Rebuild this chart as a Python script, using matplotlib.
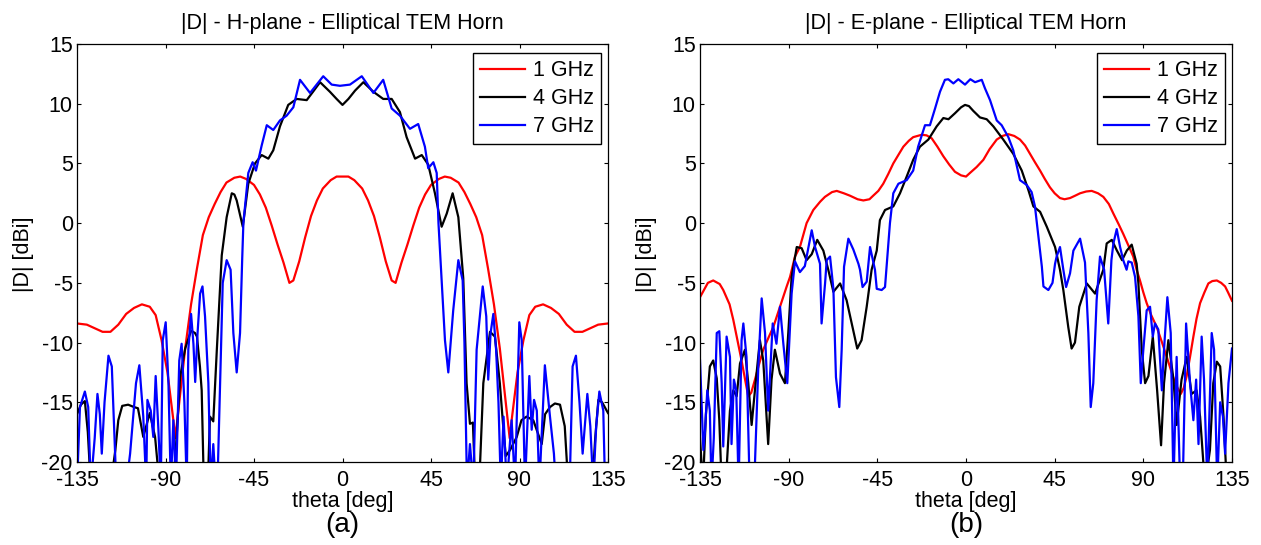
import matplotlib
matplotlib.use("Agg")
import matplotlib.pyplot as plt

plt.rcParams['font.family'] = ['Liberation Sans', 'DejaVu Sans']
plt.rcParams['axes.unicode_minus'] = False

# ---------------- data ----------------
# H-plane, 1 GHz
h1_th_half = [0, 3, 6, 10, 13, 16, 19, 22, 25, 27, 30, 33, 36, 39, 42, 45, 49, 52, 55, 59,
              62, 65, 68, 71, 74, 77, 80, 83, 85, 86, 89, 92, 95, 98, 102, 106, 110, 114,
              118, 122, 126, 130, 135]
h1_val_half = [3.9, 3.9, 3.6, 2.9, 1.9, 0.6, -1.2, -3.2, -4.8, -5.0, -3.3, -1.8, -0.2, 1.3,
               2.4, 3.2, 3.7, 3.9, 3.8, 3.4, 2.6, 1.6, 0.5, -1.0, -3.8, -6.8, -10.5, -15.0,
               -18.0, -16.5, -12.5, -9.8, -7.7, -7.0, -6.8, -7.1, -7.6, -8.5, -9.1, -9.1,
               -8.8, -8.5, -8.4]

# H-plane, 4 GHz
h4_th = [-135, -133, -131, -129.5, -128, -118, -115.5, -114, -112, -109, -106, -104, -101.3,
         -98, -95.3, -93, -86, -84, -82.6, -80, -77, -75, -74, -72.5, -71.6, -70.5, -68.5,
         -67.4, -65.7, -63.9, -61.4, -58.9, -56.3, -55, -53.8, -50.7, -47.9, -44.5, -41.1,
         -37.7, -35.2, -31.8, -27.6, -23.3, -18.2, -15, -11.4, -6.4, -3, 0,
         3, 6.4, 10.6, 15.7, 20.7, 25, 29.2, 32.6, 36.9, 40.3, 43.6, 47, 50.4, 53, 56, 58.9,
         61.4, 63.1, 64.8, 66.3, 67.5, 69.5, 71.6, 75, 77.5, 80, 81.7, 83, 85.2, 88.6, 91,
         93.6, 97, 101.3, 103, 105.5, 108, 110.6, 113, 114.8, 127, 128.5, 130.1, 132, 135]
h4_val = [-16.0, -15.2, -14.9, -17.5, -22, -22, -19, -16.5, -15.3, -15.2, -15.4, -15.5, -17.9,
          -15.9, -17.9, -22, -22, -17, -12.9, -10.5, -9.0, -9.2, -9.5, -12, -14, -22, -22,
          -16.2, -16.6, -10.6, -2.7, 0.5, 2.5, 2.4, 1.9, -0.3, 3.3, 5.0, 5.7,
          5.4, 6.1, 8.1, 9.9, 10.4, 10.3, 11.0, 11.8, 11.0, 10.4, 9.9,
          10.4, 11.1, 11.8, 11.0, 10.4, 10.4, 9.3, 7.2, 5.4, 5.7, 4.9, 2.5, -0.3, 0.8, 2.5, 0.5,
          -4.6, -13.4, -16.8, -16.7, -22, -22, -13.4, -9.1, -9.5, -13.4, -17, -19.5, -19, -17.9, -16.5,
          -16.2, -16.5, -18.5, -16, -15.4, -15.1, -15.2, -17, -22, -22, -18, -14.8, -15.0, -15.9]

# H-plane, 7 GHz
h7_th = [-135, -133.5, -131, -129.3, -128, -126, -124.6, -123.4, -122.4, -121, -119, -117.3,
         -115, -110, -108, -105, -103.3, -101.3, -99.8, -99.2, -97.5, -96.2, -95, -93.6,
         -92.4, -91.4, -89.9, -88.5, -87.3, -86, -84.7, -83, -81.8, -80.4, -79.2, -78.4,
         -77, -75.8, -74.9, -73.7, -72.4, -71.2, -69.9, -68.2, -67, -65.7, -64.5, -63.6,
         -61.5, -60.9, -58.9, -56.9, -55.5, -53.8, -52.1, -51, -50.4, -47.9, -45.7, -44,
         -41.1, -38.5, -35.2, -31.8, -28.4, -25, -21.6, -16.5, -9.8, -5.5, -1.3,
         3.8, 9.8, 15.7, 20.7, 25, 29.2, 34.3, 38.5, 41.9, 43.6, 46.2, 47.9, 48.8, 50.4,
         52.1, 53.8, 56.3, 58.9, 61.1, 62, 63.3, 64.8, 66.5, 68.2, 71.3, 73.1, 74.1,
         75.3, 76.7, 78.1, 79.3, 80.5, 81.9, 83.5, 86, 87.7, 89.9, 91.1, 92.8, 95, 96.2,
         97.4, 98.8, 100.1, 102.9, 105.5, 107.5, 108.5, 115.5, 117, 118.7, 120.5, 122.1,
         124.5, 126, 127.5, 129, 130.6, 132.6, 133.5, 135]
h7_val = [-22, -15.4, -14.1, -15.4, -22, -18, -14.3, -16, -19.3, -15, -11.1, -12.0,
          -22, -22, -19.3, -13.4, -11.9, -16.2, -22, -14.8, -15.7, -17.9, -12.8, -17.3,
          -22, -9.8, -8.3, -13.4, -22, -16.5, -22, -11.5, -10.1, -15, -22, -10.6,
          -7.6, -10.1, -13.3, -9.2, -5.9, -5.3, -7.8, -13.4, -22, -18.5, -22, -22,
          -9, -5.0, -3.1, -3.9, -9.2, -12.5, -9.2, -3, 0, 4.2, 5.1, 4.4,
          6.5, 8.2, 7.8, 8.6, 9.0, 9.7, 12.0, 10.9, 12.3, 11.6, 11.5,
          11.6, 12.3, 10.9, 12.0, 9.6, 9.0, 7.9, 8.3, 6.4, 4.6, 5.1, 4.2, 0, -4.8,
          -9.8, -12.5, -7.3, -3.1, -4.8, -10, -22, -18.5, -22, -10.6, -5.3, -7.8, -13.1,
          -9.2, -7.6, -10.6, -15, -22, -16.2, -22, -16.5, -22, -8.3, -9.8, -22, -12.8, -17.3,
          -14.8, -15.7, -22, -11.9, -16.2, -19.3, -22, -22, -12, -11.1, -15, -19.3,
          -14.3, -17, -22, -17, -14.1, -15.7, -22, -22]

# E-plane, 1 GHz
e1_th = [-135, -131, -128.3, -125, -123.2, -120, -118.1, -116, -113.9, -112, -110.5, -109,
         -107.1, -105, -102.9, -100, -97.8, -94.4, -91, -89.3, -86.8, -84.3, -80.9, -77.5,
         -74, -71.6, -68, -65.6, -62, -58.9, -55, -52.1, -49, -47.1, -44.5, -42, -39.5,
         -36.9, -34, -31.8, -29, -26.8, -22.5, -20, -17.4, -14.5, -11.5, -8.5, -5.6, -2.5,
         0, 2, 5.4, 8.8, 12, 15.6, 18.5, 21.5, 24.5, 27.4, 30, 32.5, 35, 37.6, 40, 42.6, 45,
         47.7, 50, 52.8, 55.4, 57.9, 61, 63.8, 67, 69.7, 72.5, 74.8, 77.5, 79.8, 82.5, 84.9,
         86.6, 88.3, 90, 91.7, 94, 96.8, 99.5, 101.9, 104, 106.1, 109, 110.5, 112, 113.7,
         115.4, 117, 118.8, 121, 123, 125, 127.3, 129.5, 131.5, 133, 135]
e1_val = [-6.2, -5.0, -4.8, -5.1, -5.6, -6.8, -8.1, -9.8, -11.5, -13.2, -14.5, -14.2,
          -13.1, -11.8, -10.6, -9.5, -8.7, -7.0, -5.3, -4.5, -2.8, -2.0, 0.0, 1.1,
          1.8, 2.2, 2.6, 2.7, 2.5, 2.3, 2.0, 1.9, 2.0, 2.3, 2.7, 3.3, 4.1,
          5.0, 5.8, 6.4, 6.9, 7.2, 7.4, 7.35, 7.1, 6.4, 5.6, 4.9, 4.3, 4.0,
          3.9, 4.2, 4.7, 5.3, 6.2, 7.0, 7.3, 7.45, 7.3, 7.0, 6.5, 5.8, 5.1, 4.4, 3.7, 3.0, 2.5,
          2.1, 2.0, 2.1, 2.3, 2.5, 2.65, 2.7, 2.5, 2.2, 1.6, 0.8, -0.1, -0.9, -1.9, -2.8,
          -3.9, -4.8, -5.8, -6.7, -7.7, -8.7, -10.0, -11.2, -12.3, -13.4, -14.3, -13.8, -12.8, -11.2,
          -9.5, -8.0, -6.7, -5.8, -5.05, -4.85, -4.8, -5.0, -5.3, -5.8, -6.5]

# E-plane, 4 GHz
e4_th = [-135, -133.5, -132, -130, -128.3, -126.5, -125.2, -124, -122, -119.8, -118.1,
         -116.4, -114.7, -112.2, -110.5, -108.8, -106.6, -104.6, -102.9, -100.4, -98.7, -97,
         -94.4, -91.9, -90.2, -88.5, -85.9, -83.4, -80.9, -78.3, -75.5, -72.4, -69.9, -67.3,
         -63.9, -60.6, -57.2, -55.2, -53, -50.4, -47.9, -45.3, -43.7, -41.1, -36.9, -33.5,
         -30.1, -26.8, -23.4, -19.1, -14.9, -11.5, -8.9, -5.6, -2.5, -0.5, 1.5, 3.7, 7.1,
         10.5, 13.9, 18.9, 24, 28.3, 31.6, 34.2, 37.6, 41, 45.2, 47.7, 49.4, 51.9, 53.6,
         55.3, 57.5, 61.3, 65.5, 69.7, 71.4, 74, 76.6, 79.2, 81.6, 84.1, 86.6, 87.5, 89.2,
         90.9, 92.6, 94.8, 97, 99, 100.5, 102.7, 105.3, 106.9, 109.4, 112, 114.5, 117,
         118.8, 121.3, 123.8, 125.5, 127.3, 129, 130.7, 132.4, 135]
e4_val = [-18, -22, -16, -12.0, -11.5, -13, -16.5, -22, -22, -15.7, -14.0,
          -14.5, -11.75, -10.6, -13.4, -16.9, -13.1, -9.8, -11.5, -18.5, -13.1, -10.6,
          -12.6, -13.4, -9.2, -4.5, -2.0, -2.1, -3.1, -2.6, -1.4, -2.3, -3.9, -5.75,
          -5.05, -6.45, -9.0, -10.5, -9.8, -7.0, -3.9, -2.3, 0.25, 1.1, 1.4, 2.5,
          3.9, 5.3, 6.4, 7.0, 8.1, 8.8, 8.7, 9.2, 9.7, 9.9, 9.8, 9.4, 8.85,
          8.7, 8.1, 7.0, 5.8, 4.4, 2.8, 1.4, 0.95, -0.3, -2.0, -3.9, -5.6, -8.7, -10.5,
          -10, -7.0, -5.05, -5.9, -3.9, -1.7, -1.4, -2.3, -3.1, -2.3, -1.8, -3.4, -5.05, -10.6,
          -13.4, -12.8, -9.5, -14, -18.6, -13.4, -9.8, -13.1, -16.9, -13.1, -11.2, -14.3, -14,
          -16.2, -22, -19, -13.4, -11.6, -12, -16.2, -22, -22]

# E-plane, 7 GHz
e7_th = [-135, -134.2, -133.3, -132.5, -131.3, -130, -129.2, -128, -126.5, -125.2, -124,
         -123.2, -121.5, -119.8, -119, -117.8, -116.6, -115.4, -113.9, -113, -111.4, -109.8,
         -107.5, -105.4, -103.7, -102, -100.4, -98.1, -96.2, -94.4, -92.7, -90.7, -88.5,
         -86.8, -84.3, -81.8, -78.3, -76.6, -74.1, -73.3, -71.5, -70.7, -69, -67.3, -66,
         -64.3, -63.1, -61.9, -59.7, -57.2, -54.6, -53.8, -52.5, -50.4, -48.7, -46.2, -45.3,
         -42.8, -41.1, -40.3, -38.6, -36.9, -34.3, -30.1, -26.8, -24.3, -20.8, -18.3, -15.7,
         -13.2, -10.7, -9, -6.4, -3.9, -0.5, 2.2, 4.6, 8, 9.6, 12.2, 15.6, 18.1, 21.5, 24,
         27.4, 30.8, 33.3, 35, 37.6, 38.5, 39.3, 41.8, 43.9, 45.2, 46, 47.7, 49.4, 50.8,
         52.8, 54.5, 57.9, 60.4, 62.1, 63.3, 64.6, 66.3, 68, 70.1, 72.2, 73.8, 74.8, 76.5,
         78.2, 79.8, 81.5, 82.4, 84.1, 85.8, 87.5, 88.7, 90, 91.7, 93.4, 94.8, 95.9, 97.6,
         99.4, 100.5, 102.2, 103.9, 105.3, 106.9, 108.7, 110, 111.7, 113.7, 115.4, 116.8,
         118, 119.6, 120.8, 122.5, 124.7, 125.9, 127.5, 129, 130.4, 131.5, 133.2, 134.4, 135]
e7_val = [-11.5, -15, -19, -17.5, -14, -15.7, -22, -18, -9.2, -9.05, -13.4,
          -18.7, -9.5, -11.2, -18.5, -13.1, -14, -22, -9.8, -8.4, -11.2, -22,
          -22, -12, -6.3, -9.2, -15.7, -8.4, -10.1, -7.0, -10.1, -13.4, -5.9,
          -3.2, -4.1, -3.6, -0.6, -2.0, -3.4, -8.4, -5, -3.1, -2.8, -5.5, -12.9,
          -15.4, -10.6, -3.65, -1.3, -2.2, -3.4, -3.9, -5.35, -4.9, -2.0, -3.9, -5.5,
          -5.6, -5.35, -3.65, 0.0, 2.5, 3.3, 3.6, 4.4, 6.4, 8.2, 8.2, 9.6,
          11.0, 12.0, 12.05, 11.7, 12.05, 11.6, 12.05, 11.8, 12.0, 11.3, 10.3, 8.6, 8.2, 7.2, 6.1,
          3.6, 3.2, 2.6, 1.4, -2.3, -3.65, -5.3, -5.6, -5.0, -3.4, -2.8, -2.0, -3.9, -5.35,
          -4.2, -2.3, -1.3, -3.3, -9.2, -15.4, -13.4, -6.45, -2.8, -3.9, -8.4, -3.1, -1.7, -0.5,
          -2.0, -3.1, -3.9, -3.2, -3.3, -4.5, -7.8, -13.4, -10.6, -7.3, -7.0, -9.5, -8.4, -8.9,
          -14, -10.6, -6.2, -9.2, -22, -11.2, -22, -22, -8.4, -13.4, -16.5, -13.1,
          -18.5, -9.5, -13.1, -22, -9.2, -10.6, -22, -15, -16.2, -19.3, -13.4, -11.5, -10.5]

labels = ['1 GHz', '4 GHz', '7 GHz']
colors = ['#ff0000', '#000000', '#0000ff']
titles = ['|D| - H-plane - Elliptical TEM Horn', '|D| - E-plane - Elliptical TEM Horn']
xticks = [-135, -90, -45, 0, 45, 90, 135]
yticks = [-20, -15, -10, -5, 0, 5, 10, 15]
panel_tags = ['(a)', '(b)']

h1_th = [-t for t in h1_th_half[::-1]] + h1_th_half[1:]
h1_val = h1_val_half[::-1] + h1_val_half[1:]

series = [
    [(h1_th, h1_val), (h4_th, h4_val), (h7_th, h7_val)],
    [(e1_th, e1_val), (e4_th, e4_val), (e7_th, e7_val)],
]

# ---------------- figure ----------------
W, H = 1261, 545
fig = plt.figure(figsize=(W / 100, H / 100), dpi=100)

axes_px = [(77, 44, 531, 418), (700, 44, 532, 418)]
fs = 15.5

for i, (x0, y0, w, h) in enumerate(axes_px):
    ax = fig.add_axes([x0 / W, 1 - (y0 + h) / H, w / W, h / H])
    for (th, val), lab, col in zip(series[i], labels, colors):
        ax.plot(th, val, color=col, lw=1.6, label=lab)
    ax.set_xlim(-135, 135)
    ax.set_ylim(-20, 15)
    ax.set_xticks(xticks)
    ax.set_yticks(yticks)
    ax.tick_params(direction='in', length=3, width=0.8, top=True, right=True,
                   labelsize=fs, colors='black')
    ax.tick_params(axis='x', pad=6)
    ax.tick_params(axis='y', pad=3)
    for sp in ax.spines.values():
        sp.set_linewidth(0.9)
    leg = ax.legend(loc='upper right', bbox_to_anchor=(1 - 7 / w, 1 - 9 / h),
                    borderaxespad=0, fontsize=fs, frameon=True, fancybox=False,
                    edgecolor='black', framealpha=1, handlelength=2.1,
                    labelspacing=0.33, borderpad=0.33, handletextpad=0.35)
    leg.get_frame().set_linewidth(1.0)

    cx = x0 + w / 2
    fig.text(cx / W, 1 - 28.7 / H, titles[i], ha='center', va='baseline', fontsize=fs)
    fig.text(cx / W, 1 - 502 / H, 'theta [deg]', ha='center', va='center', fontsize=fs)
    fig.text(cx / W, 1 - 525 / H, panel_tags[i], ha='center', va='center', fontsize=20)
    fig.text((x0 - 53) / W, 1 - 254 / H, '|D| [dBi]', ha='center', va='center',
             rotation=90, fontsize=fs)

fig.savefig('out.png', dpi=100)
